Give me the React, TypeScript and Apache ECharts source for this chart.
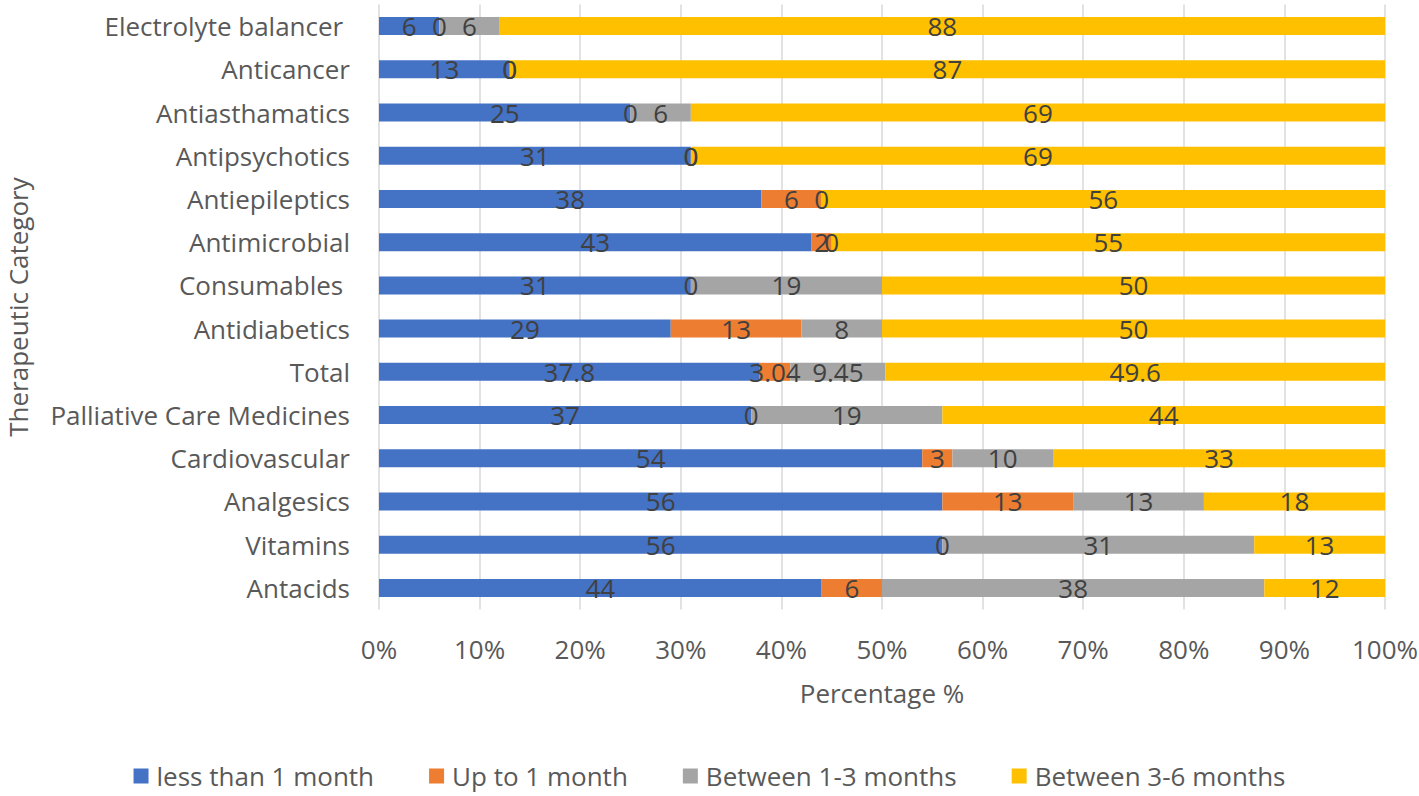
import React, { useEffect, useRef } from "react";
import * as echarts from "echarts";

const categories = [
  "Antacids",
  "Vitamins",
  "Analgesics",
  "Cardiovascular",
  "Palliative Care Medicines",
  "Total",
  "Antidiabetics",
  "Consumables ",
  "Antimicrobial",
  "Antiepileptics",
  "Antipsychotics",
  "Antiasthamatics",
  "Anticancer",
  "Electrolyte balancer ",
];

const lessThan1 = [44, 56, 56, 54, 37, 37.8, 29, 31, 43, 38, 31, 25, 13, 6];
const upTo1 = [6, 0, 13, 3, 0, 3.04, 13, 0, 2, 6, 0, 0, 0, 0];
const between13 = [38, 31, 13, 10, 19, 9.45, 8, 19, 0, 0, 0, 6, 0, 6];
const between36 = [12, 13, 18, 33, 44, 49.6, 50, 50, 55, 56, 69, 69, 87, 88];

const seriesNames = [
  "less than 1 month",
  "Up to 1 month",
  "Between 1-3 months",
  "Between 3-6 months",
];
const seriesColors = ["#4472C4", "#ED7D31", "#A5A5A5", "#FFC000"];
const xTicks = [0, 10, 20, 30, 40, 50, 60, 70, 80, 90, 100];

const FONT = "'Open Sans', 'Noto Sans', sans-serif";
const FS = 26;

export default function App() {
  const ref = useRef<HTMLDivElement>(null);
  useEffect(() => {
    document.body.style.margin = "0";
    if (!ref.current) return;
    const chart = echarts.init(ref.current, undefined, { renderer: "svg" });
    const raw = [lessThan1, upTo1, between13, between36];
    const totals = categories.map((_, i) =>
      raw.reduce((s, arr) => s + arr[i], 0)
    );
    const series = raw.map((arr, si) => ({
      name: seriesNames[si],
      type: "bar",
      stack: "all",
      barWidth: 18,
      itemStyle: { color: seriesColors[si] },
      label: {
        show: true,
        position: "inside",
        color: "#404040",
        fontSize: FS,
        fontFamily: FONT,
        formatter: (p: any) => String(arr[p.dataIndex]),
      },
      data: arr.map((v, i) => (v / totals[i]) * 100),
    }));
    chart.setOption({
      animation: false,
      textStyle: { fontFamily: FONT },
      grid: {
        left: 379,
        right: 34,
        top: 4.5,
        bottom: 186.5,
        containLabel: false,
        outerBoundsMode: "none",
      },
      legend: {
        bottom: 2,
        left: "center",
        itemWidth: 15,
        itemHeight: 15,
        itemGap: 55,
        icon: "rect",
        textStyle: {
          color: "#595959",
          fontSize: FS,
          fontFamily: FONT,
          padding: [0, 0, 0, 3],
        },
        data: seriesNames,
      },
      xAxis: {
        type: "value",
        min: 0,
        max: 100,
        interval: 10,
        name: "Percentage %",
        nameLocation: "middle",
        nameGap: 70,
        nameTextStyle: { color: "#595959", fontSize: FS, fontFamily: FONT },
        axisLine: { show: false },
        axisTick: { show: false },
        axisLabel: {
          color: "#595959",
          fontSize: FS,
          margin: 26,
          fontFamily: FONT,
          formatter: (v: number) => (xTicks.includes(v) ? v + "%" : ""),
        },
        splitLine: { show: true, lineStyle: { color: "#D9D9D9", width: 1.5 } },
      },
      yAxis: {
        type: "category",
        data: categories,
        name: "Therapeutic Category",
        nameLocation: "middle",
        nameGap: 348,
        nameRotate: 90,
        nameTextStyle: { color: "#595959", fontSize: FS, fontFamily: FONT },
        axisLine: { show: false },
        axisTick: { show: false },
        axisLabel: { color: "#595959", fontSize: FS, margin: 29, fontFamily: FONT },
        splitLine: { show: false },
      },
      series,
    });
    return () => chart.dispose();
  }, []);
  return <div ref={ref} style={{ width: 1419, height: 796 }} />;
}
